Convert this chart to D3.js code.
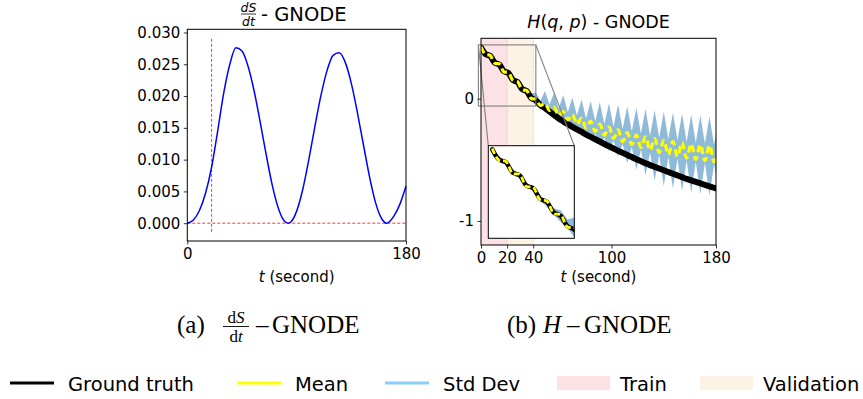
<!DOCTYPE html>
<html>
<head>
<meta charset="utf-8">
<script src="https://cdn.jsdelivr.net/npm/d3@7/dist/d3.min.js"></script>
<style>
  html, body { margin: 0; padding: 0; background: #fff; }
  svg { display: block; }
  text { font-family: "DejaVu Sans", sans-serif; fill: #000; }
  .serif { font-family: "Liberation Serif", "Times New Roman", serif; }
</style>
</head>
<body>
<svg id="chart" width="863" height="399"></svg>
<script>
// ---------------- DATA ----------------
// Panel (a): dS/dt over time
const tS = [0,5,10,15,20,25,30,35,40,45,50,55,60,65,70,75,80,83,85,90,95,100,105,110,115,120,125,130,135,140,145,150,155,160,164,165,170,175,180];
const dSdt = [0,0.0005,0.0020,0.0047,0.0088,0.0145,0.0205,0.0250,0.0276,0.0271,0.0247,0.0208,0.0159,0.0107,0.0059,0.0023,0.0003,0,0.00015,0.0019,0.0053,0.0100,0.0152,0.0201,0.0240,0.0264,0.0268,0.0253,0.0220,0.0174,0.0123,0.0073,0.0032,0.0007,0,0.00005,0.0011,0.0030,0.0058];
const aTicksY = [0, 0.005, 0.010, 0.015, 0.020, 0.025, 0.030];
const aTicksX = [0, 180];
const markerT = 20;

// Panel (b): H(q,p) over time
const tH = [0,3.5,7,10.5,14,17.5,21,24.5,28,31.5,35,38.5,42,45.5,49,52.5,56,59.5,63,66.5,70,73.5,77,80.5,84,87.5,91,94.5,98,101.5,105,108.5,112,115.5,119,122.5,126,129.5,133,136.5,140,143.5,147,150.5,154,157.5,161,164.5,168,171.5,175,178.5,180];
const truthH = [0.420,0.365,0.350,0.295,0.280,0.225,0.210,0.153,0.136,0.079,0.062,0.006,-0.013,-0.053,-0.077,-0.105,-0.133,-0.161,-0.185,-0.208,-0.230,-0.251,-0.272,-0.293,-0.312,-0.331,-0.350,-0.370,-0.389,-0.407,-0.425,-0.443,-0.460,-0.477,-0.495,-0.511,-0.527,-0.543,-0.557,-0.571,-0.585,-0.599,-0.613,-0.627,-0.641,-0.655,-0.668,-0.680,-0.692,-0.704,-0.716,-0.728,-0.733];
const meanH = [0.425,0.360,0.355,0.290,0.285,0.220,0.215,0.148,0.141,0.074,0.067,0.001,-0.003,-0.055,-0.038,-0.095,-0.072,-0.136,-0.106,-0.173,-0.130,-0.206,-0.158,-0.238,-0.184,-0.267,-0.208,-0.298,-0.233,-0.324,-0.255,-0.350,-0.277,-0.374,-0.297,-0.398,-0.312,-0.421,-0.327,-0.440,-0.340,-0.457,-0.350,-0.471,-0.360,-0.485,-0.369,-0.496,-0.375,-0.506,-0.381,-0.516,-0.470];
const upperH = [0.430,0.365,0.360,0.295,0.290,0.225,0.220,0.153,0.146,0.102,0.092,0.041,0.052,-0.018,0.063,-0.048,0.047,-0.082,0.030,-0.110,0.010,-0.136,-0.006,-0.162,-0.019,-0.185,-0.029,-0.209,-0.037,-0.228,-0.048,-0.248,-0.062,-0.267,-0.074,-0.285,-0.085,-0.303,-0.096,-0.318,-0.105,-0.330,-0.113,-0.340,-0.122,-0.351,-0.130,-0.359,-0.138,-0.367,-0.146,-0.376,-0.280];
const lowerH = [0.420,0.355,0.350,0.285,0.280,0.215,0.210,0.143,0.111,0.069,0.027,-0.004,-0.053,-0.075,-0.107,-0.115,-0.158,-0.156,-0.210,-0.193,-0.250,-0.226,-0.294,-0.258,-0.339,-0.287,-0.382,-0.318,-0.427,-0.344,-0.476,-0.370,-0.528,-0.394,-0.578,-0.418,-0.625,-0.441,-0.671,-0.460,-0.715,-0.477,-0.734,-0.491,-0.753,-0.505,-0.770,-0.516,-0.781,-0.526,-0.793,-0.536,-0.620];
const bTicksX = [0, 20, 40, 100, 180];
const bTicksY = [0, -1];
const bTickLabelsY = ["0", "-1"];
const trainRange = [0, 20];
const valRange = [20, 40];
const insetXRange = [-2, 42];
const insetYRange = [-0.06, 0.44];

const legendItems = [
  {label: "Ground truth", kind: "line", color: "#000000"},
  {label: "Mean", kind: "line", color: "#ffff00"},
  {label: "Std Dev", kind: "line", color: "#87cefa"},
  {label: "Train", kind: "patch", color: "#fde2e5"},
  {label: "Validation", kind: "patch", color: "#fdf3e4"}
];

// ---------------- DRAW ----------------
const svg = d3.select("#chart");
const FS = 15;

// ===== Panel (a) =====
const aBox = {l: 187.3, r: 406, t: 29.3, b: 241};
const xA = d3.scaleLinear().domain([0, 180]).range([aBox.l, aBox.r]);
const yA = d3.scaleLinear().domain([-0.0028, 0.0305]).range([aBox.b, aBox.t]);
const gA = svg.append("g");

gA.append("line").attr("x1", xA(0)).attr("x2", xA(180)).attr("y1", yA(0)).attr("y2", yA(0))
  .attr("stroke", "#ff0000").attr("stroke-width", 0.8).attr("stroke-dasharray", "3,2");
gA.append("line").attr("x1", xA(markerT)).attr("x2", xA(markerT)).attr("y1", yA(0.029)).attr("y2", yA(-0.0015))
  .attr("stroke", "#ff0000").attr("stroke-width", 0.8).attr("stroke-dasharray", "3,2");

const lineA = d3.line().x((d, i) => xA(tS[i])).y(d => yA(d)).curve(d3.curveMonotoneX);
gA.append("path").attr("d", lineA(dSdt)).attr("fill", "none").attr("stroke", "#0000ff").attr("stroke-width", 1.5);

gA.append("rect").attr("x", aBox.l).attr("y", aBox.t).attr("width", aBox.r - aBox.l).attr("height", aBox.b - aBox.t)
  .attr("fill", "none").attr("stroke", "#000").attr("stroke-width", 1);

const axAY = gA.append("g").attr("transform", `translate(${aBox.l},0)`)
  .call(d3.axisLeft(yA).tickValues(aTicksY).tickFormat(d3.format(".3f")).tickSize(3.5).tickPadding(3.5));
const axAX = gA.append("g").attr("transform", `translate(0,${aBox.b})`)
  .call(d3.axisBottom(xA).tickValues(aTicksX).tickFormat(d3.format("d")).tickSize(3.5).tickPadding(3.5));
[axAY, axAX].forEach(ax => {
  ax.select(".domain").remove();
  ax.selectAll("text").attr("font-size", FS).attr("font-family", "DejaVu Sans").attr("fill", "#000");
  ax.selectAll("line").attr("stroke", "#000").attr("stroke-width", 0.8);
});

// title a: dS/dt - GNODE
const titleA = gA.append("g");
titleA.append("text").attr("x", 248.5).attr("y", 11.5).attr("text-anchor", "middle").attr("font-size", 12.5).attr("font-style", "italic").text("dS");
titleA.append("line").attr("x1", 241).attr("x2", 256).attr("y1", 14).attr("y2", 14).attr("stroke", "#000").attr("stroke-width", 0.8);
titleA.append("text").attr("x", 248.5).attr("y", 25.5).attr("text-anchor", "middle").attr("font-size", 12.5).attr("font-style", "italic").text("dt");
titleA.append("text").attr("x", 261).attr("y", 21).attr("font-size", 19.5).text("- GNODE");

// x label a
const xlabA = gA.append("text").attr("x", (aBox.l + aBox.r) / 2).attr("y", 282).attr("text-anchor", "middle").attr("font-size", FS);
xlabA.append("tspan").attr("font-style", "italic").text("t");
xlabA.append("tspan").text(" (second)");

// ===== Panel (b) =====
const bBox = {l: 481, r: 716, t: 38.3, b: 245};
const xB = d3.scaleLinear().domain([0, 180]).range([bBox.l, bBox.r]);
const yB = d3.scaleLinear().domain([-1.196, 0.494]).range([bBox.b, bBox.t]);
const gB = svg.append("g");

svg.append("defs").append("clipPath").attr("id", "clipB").append("rect")
  .attr("x", bBox.l).attr("y", bBox.t).attr("width", bBox.r - bBox.l).attr("height", bBox.b - bBox.t);

const plotB = gB.append("g").attr("clip-path", "url(#clipB)");
plotB.append("rect").attr("x", xB(trainRange[0])).attr("y", bBox.t).attr("width", xB(trainRange[1]) - xB(trainRange[0])).attr("height", bBox.b - bBox.t).attr("fill", legendItems[3].color);
plotB.append("rect").attr("x", xB(valRange[0])).attr("y", bBox.t).attr("width", xB(valRange[1]) - xB(valRange[0])).attr("height", bBox.b - bBox.t).attr("fill", legendItems[4].color);
[trainRange[1], valRange[1]].forEach(v => {
  plotB.append("line").attr("x1", xB(v)).attr("x2", xB(v)).attr("y1", bBox.t).attr("y2", bBox.b)
    .attr("stroke", "#b0b0b0").attr("stroke-width", 0.8).attr("stroke-dasharray", "1,1.5");
});

function drawSeries(g, xs, ys, wTruth, wMean, dash) {
  const area = d3.area().x((d, i) => xs(tH[i])).y0((d, i) => ys(lowerH[i])).y1((d, i) => ys(upperH[i])).curve(d3.curveLinear);
  g.append("path").attr("d", area(tH)).attr("fill", "#1f77b4").attr("fill-opacity", 0.5).attr("stroke", "none");
  const lt = d3.line().x((d, i) => xs(tH[i])).y(d => ys(d)).curve(d3.curveCatmullRom);
  g.append("path").attr("d", lt(truthH)).attr("fill", "none").attr("stroke", "#000").attr("stroke-width", wTruth).attr("stroke-linecap", "round");
  g.append("path").attr("d", lt(meanH)).attr("fill", "none").attr("stroke", "#ffff00").attr("stroke-width", wMean).attr("stroke-dasharray", dash);
}
drawSeries(plotB, xB, yB, 6, 3.2, "7,4");

// zoom indicator
const zr = {x0: xB(insetXRange[0]), x1: xB(insetXRange[1]), y0: yB(insetYRange[1]), y1: yB(insetYRange[0])};
gB.append("rect").attr("x", zr.x0).attr("y", zr.y0).attr("width", zr.x1 - zr.x0).attr("height", zr.y1 - zr.y0)
  .attr("fill", "none").attr("stroke", "#808080").attr("stroke-width", 1.1);

const inBox = {l: 488.3, r: 574.3, t: 145.7, b: 238.3};
gB.append("line").attr("x1", zr.x0).attr("y1", zr.y0).attr("x2", inBox.l).attr("y2", inBox.t).attr("stroke", "#808080").attr("stroke-width", 1.1);
gB.append("line").attr("x1", zr.x1).attr("y1", zr.y0).attr("x2", inBox.r).attr("y2", inBox.t).attr("stroke", "#808080").attr("stroke-width", 1.1);

// inset
const xI = d3.scaleLinear().domain(insetXRange).range([inBox.l, inBox.r]);
const yI = d3.scaleLinear().domain(insetYRange).range([inBox.b, inBox.t]);
svg.select("defs").append("clipPath").attr("id", "clipI").append("rect")
  .attr("x", inBox.l).attr("y", inBox.t).attr("width", inBox.r - inBox.l).attr("height", inBox.b - inBox.t);
gB.append("rect").attr("x", inBox.l).attr("y", inBox.t).attr("width", inBox.r - inBox.l).attr("height", inBox.b - inBox.t).attr("fill", "#fff");
const plotI = gB.append("g").attr("clip-path", "url(#clipI)");
drawSeries(plotI, xI, yI, 4.5, 2.8, "6,3");
gB.append("rect").attr("x", inBox.l).attr("y", inBox.t).attr("width", inBox.r - inBox.l).attr("height", inBox.b - inBox.t)
  .attr("fill", "none").attr("stroke", "#000").attr("stroke-width", 1);

// frame b
gB.append("rect").attr("x", bBox.l).attr("y", bBox.t).attr("width", bBox.r - bBox.l).attr("height", bBox.b - bBox.t)
  .attr("fill", "none").attr("stroke", "#000").attr("stroke-width", 1);

const axBY = gB.append("g").attr("transform", `translate(${bBox.l},0)`)
  .call(d3.axisLeft(yB).tickValues(bTicksY).tickFormat((d, i) => bTickLabelsY[i]).tickSize(3.5).tickPadding(3.5));
const axBX = gB.append("g").attr("transform", `translate(0,${bBox.b})`)
  .call(d3.axisBottom(xB).tickValues(bTicksX).tickFormat(d3.format("d")).tickSize(3.5).tickPadding(3.5));
[axBY, axBX].forEach(ax => {
  ax.select(".domain").remove();
  ax.selectAll("text").attr("font-size", FS).attr("font-family", "DejaVu Sans").attr("fill", "#000");
  ax.selectAll("line").attr("stroke", "#000").attr("stroke-width", 0.8);
});

// title b
const titleB = gB.append("text").attr("x", (bBox.l + bBox.r) / 2).attr("y", 28).attr("text-anchor", "middle").attr("font-size", 17.5);
titleB.append("tspan").attr("font-style", "italic").text("H");
titleB.append("tspan").text("(");
titleB.append("tspan").attr("font-style", "italic").text("q");
titleB.append("tspan").text(", ");
titleB.append("tspan").attr("font-style", "italic").text("p");
titleB.append("tspan").text(") - GNODE");

const xlabB = gB.append("text").attr("x", (bBox.l + bBox.r) / 2).attr("y", 282).attr("text-anchor", "middle").attr("font-size", FS);
xlabB.append("tspan").attr("font-style", "italic").text("t");
xlabB.append("tspan").text(" (second)");

// ===== Captions =====
const capFS = 25;
const capA = svg.append("g");
capA.append("text").attr("class", "serif").attr("x", 177).attr("y", 333).attr("font-size", capFS).text("(a)");
capA.append("text").attr("class", "serif").attr("x", 236).attr("y", 323).attr("text-anchor", "middle").attr("font-size", 17)
  .html('d<tspan font-style="italic">S</tspan>');
capA.append("line").attr("x1", 223).attr("x2", 249).attr("y1", 326.5).attr("y2", 326.5).attr("stroke", "#000").attr("stroke-width", 0.9);
capA.append("text").attr("class", "serif").attr("x", 236).attr("y", 341.5).attr("text-anchor", "middle").attr("font-size", 17)
  .html('d<tspan font-style="italic">t</tspan>');
capA.append("text").attr("class", "serif").attr("x", 256).attr("y", 333).attr("font-size", capFS).text("\u2013");
capA.append("text").attr("class", "serif").attr("x", 272).attr("y", 333).attr("font-size", capFS).text("GNODE");

const capB = svg.append("g");
capB.append("text").attr("class", "serif").attr("x", 507).attr("y", 333).attr("font-size", capFS).text("(b)");
capB.append("text").attr("class", "serif").attr("x", 543).attr("y", 333).attr("font-size", capFS).attr("font-style", "italic").text("H");
capB.append("text").attr("class", "serif").attr("x", 567).attr("y", 333).attr("font-size", capFS).text("\u2013");
capB.append("text").attr("class", "serif").attr("x", 584).attr("y", 333).attr("font-size", capFS).text("GNODE");

// ===== Legend =====
const legX = [10, 237, 385, 557, 700];
const legG = svg.append("g");
legendItems.forEach((it, i) => {
  const x0 = legX[i];
  if (it.kind === "line") {
    legG.append("line").attr("x1", x0).attr("x2", x0 + 44).attr("y1", 383).attr("y2", 383)
      .attr("stroke", it.color).attr("stroke-width", 3);
    legG.append("text").attr("x", x0 + 58).attr("y", 390.5).attr("font-size", 19.5).text(it.label);
  } else {
    legG.append("rect").attr("x", x0).attr("y", 376).attr("width", 53).attr("height", 14).attr("fill", it.color);
    legG.append("text").attr("x", x0 + 63).attr("y", 390.5).attr("font-size", 19.5).text(it.label);
  }
});
</script>
</body>
</html>
